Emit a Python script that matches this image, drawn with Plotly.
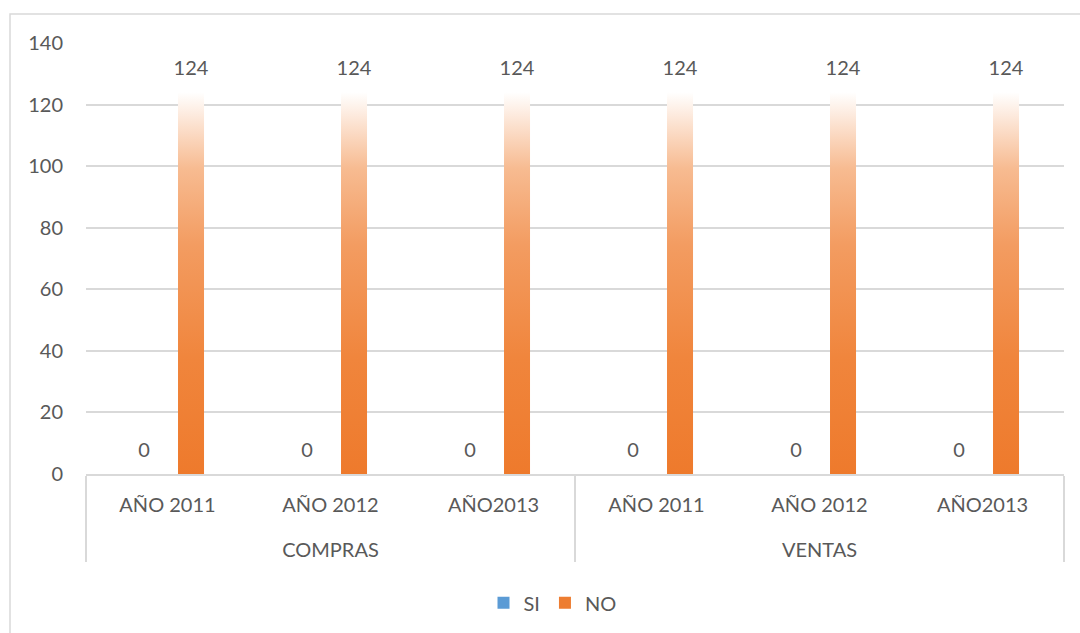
"""Bar chart: SI / NO answers by year, for compras and ventas."""

import plotly.graph_objects as go

# Data
groups = ['COMPRAS', 'COMPRAS', 'COMPRAS', 'VENTAS', 'VENTAS', 'VENTAS']
years = ['AÑO 2011', 'AÑO 2012', 'AÑO2013', 'AÑO 2011', 'AÑO 2012', 'AÑO2013']
si_values = [0, 0, 0, 0, 0, 0]
no_values = [124, 124, 124, 124, 124, 124]
y_ticks = [0, 20, 40, 60, 80, 100, 120, 140]

FONT = 'Lato'
TEXT_COLOR = '#595959'
GRID_COLOR = '#d9d9d9'
BAR_GAP = 0.423

# inner labels get an empty (tall) second line so the group names sit lower
inner_labels = [y + '<br><span style="font-size:42px">\u00a0</span>' for y in years]
x_cats = [groups, inner_labels]

fig = go.Figure()

series = [('SI', si_values, '#5B9BD5'), ('NO', no_values, '#ED7D31')]

for name, values, color in series:
  fig.add_trace(go.Bar(
      name=name,
      x=x_cats,
      y=values,
      marker=dict(color=color, line=dict(width=0)),
      hoverinfo='skip',
  ))

# data labels, drawn as grouped text points so they line up with the bars
for name, values, color in series:
  fig.add_trace(go.Scatter(
      x=x_cats,
      y=values,
      mode='markers+text',
      text=[str(v) for v in values],
      textposition='top center',
      textfont=dict(family=FONT, size=20, color=TEXT_COLOR),
      marker=dict(size=18, opacity=0),
      cliponaxis=False,
      showlegend=False,
      hoverinfo='skip',
  ))

fig.update_layout(
    width=1080,
    height=633,
    margin=dict(l=86, r=16, t=43, b=158),
    paper_bgcolor='white',
    plot_bgcolor='white',
    barmode='group',
    bargap=BAR_GAP,
    bargroupgap=0.447,
    scattermode='group',
    scattergap=BAR_GAP,
    font=dict(family=FONT, size=20, color=TEXT_COLOR),
    showlegend=True,
    legend=dict(
        orientation='h',
        x=0.477,
        xanchor='center',
        y=-0.296,
        yanchor='middle',
        font=dict(family=FONT, size=20, color=TEXT_COLOR),
        itemwidth=30,
        traceorder='normal',
    ),
    # outer frame of the chart
    shapes=[dict(
        type='rect', xref='paper', yref='paper',
        x0=-0.0777, x1=1.2, y0=-0.6, y1=1.067,
        line=dict(color=GRID_COLOR, width=1.5),
        fillcolor='rgba(0,0,0,0)', layer='below',
    )],
)

fig.update_yaxes(
    range=[0, 140],
    tickvals=y_ticks,
    showgrid=True,
    gridcolor=GRID_COLOR,
    gridwidth=1.5,
    zeroline=False,
    showline=False,
    ticks='',
    ticklabelstandoff=22,
    tickfont=dict(family=FONT, size=20, color=TEXT_COLOR),
)

fig.update_xaxes(
    type='multicategory',
    showline=True,
    linecolor=GRID_COLOR,
    linewidth=1.5,
    showgrid=False,
    ticks='',
    ticklabelstandoff=12,
    showdividers=True,
    dividercolor=GRID_COLOR,
    dividerwidth=1.5,
    tickfont=dict(family=FONT, size=20, color=TEXT_COLOR),
)

# Excel style vertical gradient on the NO bars (white at the top, orange below)
post_script = """
document.body.style.margin = '0';
var gd = document.getElementById('{plot_id}');
function paintBars() {
  var svg = gd.querySelector('svg.main-svg');
  if (!svg) return;
  var ns = 'http://www.w3.org/2000/svg';
  if (!document.getElementById('gradNO')) {
    var defs = svg.querySelector('defs') || svg.insertBefore(document.createElementNS(ns, 'defs'), svg.firstChild);
    var grad = document.createElementNS(ns, 'linearGradient');
    grad.setAttribute('id', 'gradNO');
    grad.setAttribute('x1', '0'); grad.setAttribute('y1', '0');
    grad.setAttribute('x2', '0'); grad.setAttribute('y2', '1');
    var stops = [[0, '#ffffff'], [0.08, '#fce3d2'], [0.2, '#f7bb91'],
                 [0.4, '#f39c61'], [0.7, '#f0853c'], [1, '#ee7a2c']];
    stops.forEach(function (s) {
      var st = document.createElementNS(ns, 'stop');
      st.setAttribute('offset', s[0]);
      st.setAttribute('stop-color', s[1]);
      grad.appendChild(st);
    });
    defs.appendChild(grad);
  }
  var traces = gd.querySelectorAll('.barlayer .trace');
  if (traces.length > 1) {
    traces[1].querySelectorAll('.point path').forEach(function (p) {
      p.style.fill = 'url(#gradNO)';
    });
  }
}
paintBars();
gd.on('plotly_afterplot', paintBars);
"""

fig.write_html('out.html', post_script=post_script,
               config={'displayModeBar': False})
